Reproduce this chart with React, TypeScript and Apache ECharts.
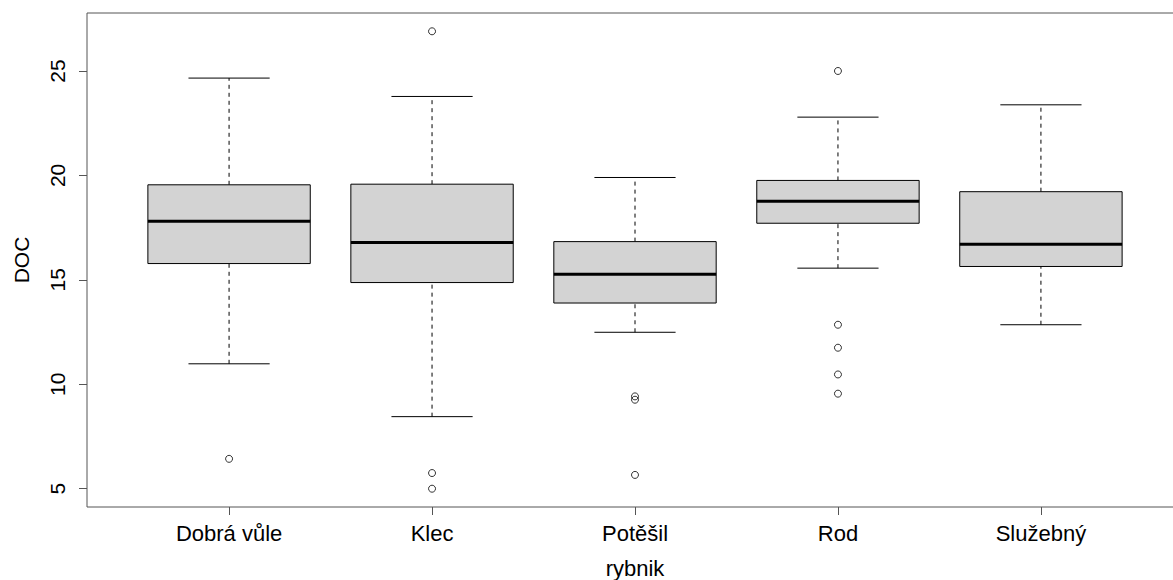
import React, { useEffect, useRef } from "react";
import * as echarts from "echarts";

const categories = ["Dobrá vůle", "Klec", "Potěšil", "Rod", "Služebný"];
// [lower whisker, Q1, median, Q3, upper whisker]
const lowWhisker = [10.98, 8.45, 12.49, 15.56, 12.85];
const q1 = [15.78, 14.87, 13.89, 17.71, 15.64];
const median = [17.8, 16.79, 15.27, 18.76, 16.7];
const q3 = [19.55, 19.58, 16.83, 19.76, 19.22];
const highWhisker = [24.66, 23.78, 19.9, 22.79, 23.38];
const outliers = [[6.43], [26.9, 5.75, 5.0], [9.42, 9.26, 5.66], [25.0, 12.85, 11.75, 10.47, 9.55], []];
const yTicks = [5, 10, 15, 20, 25];
const xTicks = [1, 2, 3, 4, 5];

const FONT = "'Liberation Sans', Arial, sans-serif";

export default function App() {
  const ref = useRef<HTMLDivElement>(null);
  useEffect(() => {
    if (!ref.current) return;
    const chart = echarts.init(ref.current, null, { renderer: "svg" });
    const boxData = categories.map((_, i) => [i + 1, lowWhisker[i], q1[i], median[i], q3[i], highWhisker[i]]);
    const outData: number[][] = [];
    outliers.forEach((arr, i) => arr.forEach((v) => outData.push([i + 1, v])));
    const allVals = [...lowWhisker, ...highWhisker, ...outData.map((d) => d[1])];
    const dmin = Math.min(...allVals);
    const dmax = Math.max(...allVals);
    const pad = (dmax - dmin) * 0.04;

    chart.setOption({
      animation: false,
      backgroundColor: "#fff",
      grid: {
        left: 87,
        top: 13,
        width: 1096,
        height: 494,
        outerBoundsMode: "none",
        containLabel: false,
        show: true,
        borderColor: "#555",
        borderWidth: 1,
        backgroundColor: "transparent",
      },
      xAxis: {
        type: "value",
        min: 0.3,
        max: 5.7,
        name: "rybnik",
        nameLocation: "middle",
        nameGap: 50,
        nameTextStyle: { fontFamily: FONT, fontSize: 22, color: "#000", lineHeight: 22 },
        axisLine: { show: false },
        splitLine: { show: false },
        axisTick: { show: true, customValues: xTicks, length: 8, lineStyle: { color: "#555" } },
        axisLabel: {
          customValues: xTicks,
          formatter: (v: number) => categories[Math.round(v) - 1] ?? "",
          fontFamily: FONT,
          fontSize: 22,
          color: "#000",
          margin: 15,
        },
      },
      yAxis: {
        type: "value",
        min: dmin - pad,
        max: dmax + pad,
        name: "DOC",
        nameLocation: "middle",
        nameGap: 55,
        nameRotate: 90,
        nameTextStyle: { fontFamily: FONT, fontSize: 21, color: "#000" },
        axisLine: { show: false },
        splitLine: { show: false },
        axisTick: { show: true, customValues: yTicks, length: 8, lineStyle: { color: "#555" } },
        axisLabel: {
          customValues: yTicks,
          rotate: 90,
          fontFamily: FONT,
          fontSize: 21,
          color: "#000",
          margin: 19,
        },
      },
      series: [
        {
          type: "custom",
          data: boxData,
          encode: { x: 0, y: [1, 2, 3, 4, 5] },
          renderItem: (params: any, api: any) => {
            const x = api.value(0);
            const lo = api.coord([x, api.value(1)]);
            const b1 = api.coord([x, api.value(2)]);
            const md = api.coord([x, api.value(3)]);
            const b3 = api.coord([x, api.value(4)]);
            const hi = api.coord([x, api.value(5)]);
            const boxW = api.size([0.8, 0])[0];
            const capW = api.size([0.4, 0])[0];
            const cx = md[0];
            const dash = { stroke: "#000", lineWidth: 1, lineDash: [4, 4] };
            const solid = { stroke: "#000", lineWidth: 1 };
            return {
              type: "group",
              children: [
                { type: "line", shape: { x1: cx, y1: b3[1], x2: cx, y2: hi[1] }, style: dash },
                { type: "line", shape: { x1: cx, y1: lo[1], x2: cx, y2: b1[1] }, style: dash },
                { type: "line", shape: { x1: cx - capW / 2, y1: hi[1], x2: cx + capW / 2, y2: hi[1] }, style: solid },
                { type: "line", shape: { x1: cx - capW / 2, y1: lo[1], x2: cx + capW / 2, y2: lo[1] }, style: solid },
                {
                  type: "rect",
                  shape: { x: cx - boxW / 2, y: b3[1], width: boxW, height: b1[1] - b3[1] },
                  style: { fill: "#d3d3d3", stroke: "#000", lineWidth: 1 },
                },
                { type: "line", shape: { x1: cx - boxW / 2, y1: md[1], x2: cx + boxW / 2, y2: md[1] }, style: { stroke: "#000", lineWidth: 3 } },
              ],
            };
          },
        },
        {
          type: "scatter",
          data: outData,
          symbol: "circle",
          symbolSize: 7,
          itemStyle: { color: "rgba(0,0,0,0)", borderColor: "#000", borderWidth: 1 },
        },
      ],
    });
    return () => chart.dispose();
  }, []);
  return <div ref={ref} style={{ position: "absolute", left: 0, top: 0, width: 1173, height: 580 }} />;
}
